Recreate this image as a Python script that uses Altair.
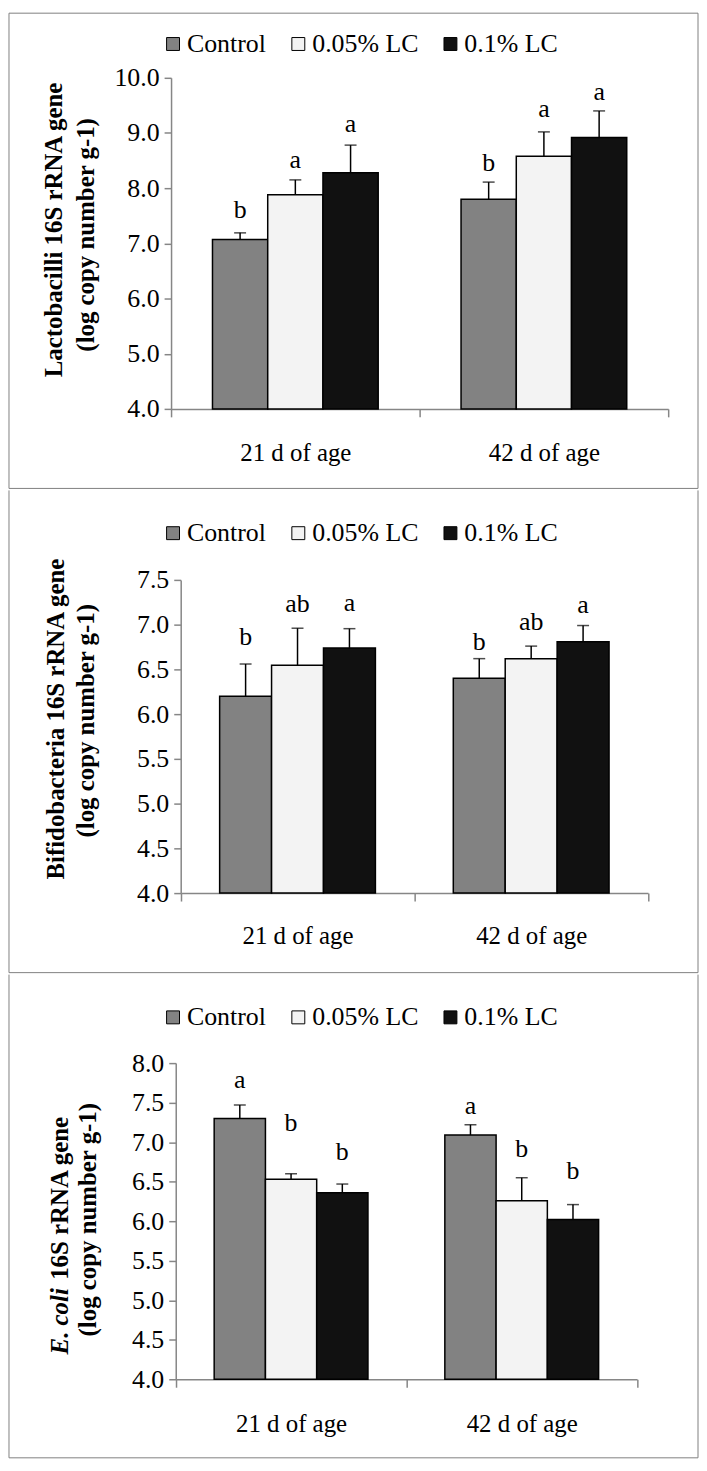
import altair as alt
import pandas as pd

ages = ["21 d of age", "42 d of age"]
treatments = ["Control", "0.05% LC", "0.1% LC"]
colors = ["#828282", "#f3f3f3", "#111111"]

# order: 21 d (Control, 0.05%, 0.1%), 42 d (Control, 0.05%, 0.1%)
lac_mean = [7.07, 7.88, 8.28, 7.80, 8.58, 8.92]
lac_err = [7.19, 8.15, 8.78, 8.11, 9.02, 9.40]
lac_letter = ["b", "a", "a", "b", "a", "a"]
lac_letter_y = [7.61, 8.51, 9.16, 8.45, 9.44, 9.74]

bif_mean = [6.20, 6.545, 6.74, 6.40, 6.62, 6.81]
bif_err = [6.56, 6.96, 6.955, 6.62, 6.76, 6.99]
bif_letter = ["b", "ab", "a", "b", "ab", "a"]
bif_letter_y = [6.86, 7.23, 7.24, 6.80, 7.03, 7.22]

eco_mean = [7.30, 6.53, 6.36, 7.09, 6.26, 6.02]
eco_err = [7.47, 6.60, 6.47, 7.22, 6.55, 6.21]
eco_letter = ["a", "b", "b", "a", "b", "b"]
eco_letter_y = [7.79, 7.245, 6.87, 7.455, 6.91, 6.64]

lac_ticks = [4.0, 5.0, 6.0, 7.0, 8.0, 9.0, 10.0]
bif_ticks = [4.0, 4.5, 5.0, 5.5, 6.0, 6.5, 7.0, 7.5]
eco_ticks = [4.0, 4.5, 5.0, 5.5, 6.0, 6.5, 7.0, 7.5, 8.0]

FONT = "Liberation Serif"
GRAY = "#868686"


def make_df(mean, err, letters, letter_y):
    rows = []
    i = 0
    for a in ages:
        for t in treatments:
            rows.append({"age": a, "treatment": t, "mean": mean[i], "err": err[i],
                         "letter": letters[i], "letter_y": letter_y[i]})
            i += 1
    return pd.DataFrame(rows)


def panel(df, ticks, height, x_range, y_off, legend_y, label_pad, frame, title_parts):
    ymin, ymax = ticks[0], ticks[-1]
    one = pd.DataFrame({"d": [0]})
    xaxis = alt.Axis(title=None, labelAngle=0, tickBand="extent", tickSize=8,
                     labelPadding=label_pad, labelFontSize=25)
    yaxis = alt.Axis(title=None, values=ticks, format=".1f", tickSize=7,
                     labelPadding=5, offset=y_off, labelFontSize=26,
                     labelOverlap=False, tickCount=len(ticks))
    xscale = alt.Scale(domain=ages, range=x_range, paddingInner=0, paddingOuter=0)
    xoscale = alt.Scale(domain=treatments, paddingInner=0, paddingOuter=0.75)
    yscale = alt.Scale(domain=[ymin, ymax], nice=False, zero=False)

    def X():
        return alt.X("age:N", sort=ages, scale=xscale, axis=xaxis)

    def XO():
        return alt.XOffset("treatment:N", sort=treatments, scale=xoscale)

    def Y(field):
        return alt.Y(field, type="quantitative", scale=yscale, axis=yaxis)

    layers = []
    for (x1, x2, y1, y2) in frame:
        layers.append(alt.Chart(one).mark_rule(color="#808080", strokeWidth=1).encode(
            x=alt.value(x1), x2=alt.value(x2), y=alt.value(y1), y2=alt.value(y2)))

    bars = alt.Chart(df).mark_bar(stroke="black", strokeWidth=1.5).encode(
        x=X(), xOffset=XO(), y=Y("mean"), y2=alt.datum(ymin),
        fill=alt.Fill("treatment:N", sort=treatments,
                      scale=alt.Scale(domain=treatments, range=colors),
                      legend=alt.Legend(title=None, orient="none", direction="horizontal",
                                        legendX=-11, legendY=legend_y)),
    )
    rules = alt.Chart(df).mark_rule(color="black", strokeWidth=1.5).encode(
        x=X(), xOffset=XO(), y=Y("mean"), y2="err:Q")
    caps = alt.Chart(df).mark_tick(color="black", thickness=1.5, size=12).encode(
        x=X(), xOffset=XO(), y=Y("err"))
    letters = alt.Chart(df).mark_text(font=FONT, fontSize=26, baseline="middle",
                                      color="black").encode(
        x=X(), xOffset=XO(), y=Y("letter_y"), text="letter:N")

    layers += [bars, rules, caps, letters]
    for (txt, x, y, align, style) in title_parts:
        layers.append(alt.Chart(one).mark_text(
            font=FONT, fontSize=25, fontWeight="bold", fontStyle=style, angle=270,
            align=align, baseline="middle", color="black"
        ).encode(x=alt.value(x), y=alt.value(y), text=alt.value(txt)))

    return alt.layer(*layers).properties(width=500, height=height)


L, R = -163, 530
lac_frame = [(L, R, -65, -65), (L, L, -65, 413), (R, R, -65, 413), (L, R, 413, 413)]
bif_frame = [(L, L, -90, 395), (R, R, -90, 395), (L, R, 395, 395)]
eco_frame = [(L, L, -89, 397), (R, R, -89, 397), (L, R, 397, 397)]

lac = panel(make_df(lac_mean, lac_err, lac_letter, lac_letter_y), lac_ticks, 333,
            [0, 500], 0, -47, 24, lac_frame,
            [("Lactobacilli 16S rRNA gene", -117.5, 153, "center", "normal"),
             ("(log copy number g-1)", -85, 158, "center", "normal")])
bif = panel(make_df(bif_mean, bif_err, bif_letter, bif_letter_y), bif_ticks, 315,
            [9.7, 479.7], -9.7, -60, 23, bif_frame,
            [("Bifidobacteria 16S rRNA gene", -115.4, 140, "center", "normal"),
             ("(log copy number g-1)", -85, 141.7, "center", "normal")])
eco = panel(make_df(eco_mean, eco_err, eco_letter, eco_letter_y), eco_ticks, 318,
            [4.7, 468.7], -4.7, -59, 25, eco_frame,
            [("E. coli", -111.3, 293, "left", "italic"),
             ("16S rRNA gene", -111.3, 218, "left", "normal"),
             ("(log copy number g-1)", -83, 157.5, "center", "normal")])

chart = alt.vconcat(lac, bif, eco, spacing=0).resolve_scale(
    x="independent", y="independent", fill="independent", xOffset="independent"
).resolve_legend(fill="independent").properties(padding=0).configure_view(
    stroke=None
).configure_axis(
    labelFont=FONT, labelColor="black", domainColor=GRAY, tickColor=GRAY,
    domainWidth=1.5, tickWidth=1.5, grid=False
).configure_axisY(labelOverlap=False).configure_legend(
    labelFont=FONT, labelFontSize=26, labelColor="black", symbolType="square",
    symbolSize=169, symbolStrokeColor="black", symbolStrokeWidth=1,
    columnPadding=19, labelOffset=1, padding=0, symbolOpacity=1
)

chart.save("out.html", embed_options={"renderer": "svg", "actions": False})
